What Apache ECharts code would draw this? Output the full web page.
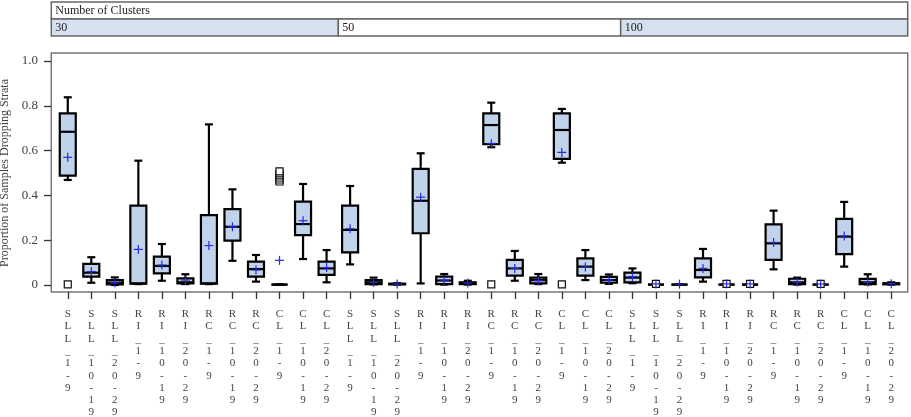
<!DOCTYPE html>
<html>
<head>
<meta charset="utf-8">
<script src="https://cdn.jsdelivr.net/npm/echarts@6/dist/echarts.min.js"></script>
<style>
  html, body { margin: 0; padding: 0; background: #fff; }
  #chart { width: 911px; height: 417px; }
</style>
</head>
<body>
<div id="chart"></div>
<script>
// strata groups, repeated for every cluster count
var strata = ['SLL_1-9', 'SLL_10-19', 'SLL_20-29', 'RI_1-9', 'RI_10-19', 'RI_20-29',
              'RC_1-9', 'RC_10-19', 'RC_20-29', 'CL_1-9', 'CL_10-19', 'CL_20-29'];
var clusters = ['30', '50', '100'];

// [min, q1, median, q3, max] per stratum
var box30 = [
    [0.469, 0.488, 0.684, 0.766, 0.838],
    [0.010, 0.037, 0.055, 0.094, 0.124],
    [0.000, 0.003, 0.010, 0.022, 0.034],
    [0.004, 0.006, 0.007, 0.354, 0.555],
    [0.019, 0.052, 0.085, 0.127, 0.183],
    [0.004, 0.007, 0.012, 0.030, 0.048],
    [0.004, 0.006, 0.007, 0.312, 0.717],
    [0.108, 0.198, 0.260, 0.339, 0.427],
    [0.015, 0.037, 0.071, 0.104, 0.134],
    [0.002, 0.002, 0.002, 0.002, 0.002],
    [0.116, 0.223, 0.272, 0.372, 0.451],
    [0.012, 0.045, 0.074, 0.104, 0.156]
];
var box50 = [
    [0.092, 0.146, 0.246, 0.354, 0.442],
    [0.003, 0.004, 0.012, 0.022, 0.033],
    [0.002, 0.003, 0.004, 0.006, 0.008],
    [0.007, 0.231, 0.376, 0.518, 0.588],
    [0.002, 0.004, 0.020, 0.037, 0.049],
    [0.002, 0.004, 0.008, 0.012, 0.019],
    [0.615, 0.629, 0.714, 0.766, 0.814],
    [0.019, 0.042, 0.074, 0.112, 0.152],
    [0.004, 0.007, 0.022, 0.033, 0.049],
    [0.546, 0.563, 0.692, 0.766, 0.786],
    [0.022, 0.042, 0.082, 0.119, 0.156],
    [0.005, 0.010, 0.022, 0.036, 0.047]
];
var box100 = [
    [0.008, 0.012, 0.033, 0.055, 0.074],
    [0.002, 0.002, 0.002, 0.002, 0.002],
    [0.002, 0.002, 0.002, 0.002, 0.004],
    [0.015, 0.034, 0.067, 0.119, 0.161],
    [0.002, 0.002, 0.002, 0.002, 0.002],
    [0.002, 0.002, 0.002, 0.002, 0.002],
    [0.070, 0.112, 0.186, 0.271, 0.332],
    [0.002, 0.004, 0.012, 0.028, 0.033],
    [0.002, 0.002, 0.002, 0.002, 0.002],
    [0.082, 0.138, 0.216, 0.295, 0.371],
    [0.003, 0.004, 0.012, 0.027, 0.048],
    [0.002, 0.003, 0.005, 0.008, 0.012]
];

var mean30 = [0.570, 0.060, 0.010, 0.159, 0.089, 0.022, 0.176, 0.260, 0.067, 0.110, 0.287, 0.078];
var mean50 = [0.251, 0.012, 0.005, 0.392, 0.022, 0.009, 0.632, 0.074, 0.019, 0.592, 0.080, 0.022];
var mean100 = [0.037, 0.005, 0.004, 0.074, 0.005, 0.005, 0.190, 0.013, 0.004, 0.219, 0.013, 0.006];

// outliers: [stratum index, value]
var out30 = [[0, 0.003], [9, 0.462], [9, 0.471], [9, 0.480], [9, 0.489], [9, 0.498], [9, 0.507]];
var out50 = [[6, 0.003], [9, 0.003]];
var out100 = [[1, 0.005], [4, 0.005], [5, 0.005], [8, 0.005]];

var labels = [], boxData = [], meanData = [], outData = [];
var boxSets = [box30, box50, box100];
var meanSets = [mean30, mean50, mean100];
var outSets = [out30, out50, out100];
for (var g = 0; g < clusters.length; g++) {
    for (var k = 0; k < strata.length; k++) {
        var idx = g * strata.length + k;
        labels.push(strata[k] + '#' + g);   // unique category keys
        boxData.push([idx].concat(boxSets[g][k]));
        meanData.push([idx, meanSets[g][k]]);
    }
    outSets[g].forEach(function (o) {
        outData.push([g * strata.length + o[0], o[1]]);
    });
}

function renderBox(params, api) {
    var i = api.value(0);
    var x = api.coord([i, 0])[0];
    var band = api.size([1, 0])[0];
    var half = band * 0.34;
    var cap = band * 0.17;
    var y = function (n) { return api.coord([i, api.value(n)])[1]; };
    var yMin = y(1), yQ1 = y(2), yMed = y(3), yQ3 = y(4), yMax = y(5);
    var ls = { stroke: '#000', lineWidth: 2.2 };
    return {
        type: 'group',
        children: [
            { type: 'line', shape: { x1: x, y1: yMin, x2: x, y2: yQ1 }, style: ls },
            { type: 'line', shape: { x1: x, y1: yQ3, x2: x, y2: yMax }, style: ls },
            { type: 'line', shape: { x1: x - cap, y1: yMin, x2: x + cap, y2: yMin }, style: ls },
            { type: 'line', shape: { x1: x - cap, y1: yMax, x2: x + cap, y2: yMax }, style: ls },
            { type: 'rect', shape: { x: x - half, y: yQ3, width: half * 2, height: yQ1 - yQ3 },
              style: { fill: '#c1d3eb', stroke: '#000', lineWidth: 2.2 } },
            { type: 'line', shape: { x1: x - half, y1: yMed, x2: x + half, y2: yMed }, style: ls }
        ]
    };
}

function renderMean(params, api) {
    var p = api.coord([api.value(0), api.value(1)]);
    var st = { stroke: '#2a2ad8', lineWidth: 1.2 };
    return {
        type: 'group',
        children: [
            { type: 'line', shape: { x1: p[0] - 4.5, y1: p[1], x2: p[0] + 4.5, y2: p[1] }, style: st },
            { type: 'line', shape: { x1: p[0], y1: p[1] - 4.5, x2: p[0], y2: p[1] + 4.5 }, style: st }
        ]
    };
}

var serif = 'Liberation Serif';
var myChart = echarts.init(document.getElementById('chart'));
var option = {
    animation: false,
    grid: {
        left: 56, right: 8, top: 61, bottom: 132,
        outerBoundsMode: 'none',
        containLabel: false
    },
    xAxis: {
        type: 'category',
        data: labels,
        offset: 7,
        axisLine: { show: false, onZero: false },
        splitLine: { show: false },
        axisTick: { show: true, alignWithLabel: true, interval: 0, length: 7,
                    lineStyle: { color: '#333', width: 1.3 } },
        axisLabel: {
            interval: 0,
            margin: 16,
            fontFamily: serif,
            fontSize: 11,
            lineHeight: 12.3,
            verticalAlign: 'top',
            color: '#444',
            formatter: function (v) {
                return v.split('#')[0].split('').join('\n');
            }
        }
    },
    yAxis: {
        type: 'value',
        min: 0,
        max: 1,
        interval: 0.2,
        offset: 5,
        name: 'Proportion of Samples Dropping Strata',
        nameLocation: 'middle',
        nameGap: 36,
        nameTextStyle: { fontFamily: serif, fontSize: 12, color: '#444' },
        axisLine: { show: false },
        splitLine: { show: false },
        axisTick: { show: true, length: 7, lineStyle: { color: '#333', width: 1.3 } },
        axisLabel: {
            margin: 13,
            fontFamily: serif,
            fontSize: 13,
            color: '#444',
            formatter: function (v) { return v === 0 ? '0' : v.toFixed(1); }
        }
    },
    series: [
        { type: 'custom', renderItem: renderBox, data: boxData, z: 2, clip: false,
          encode: { x: 0, y: [1, 2, 3, 4, 5] } },
        { type: 'scatter', data: outData, symbol: 'rect', symbolSize: 7, z: 3, clip: false,
          itemStyle: { color: '#fff', borderColor: '#111', borderWidth: 1.2, opacity: 1 } },
        { type: 'custom', renderItem: renderMean, data: meanData, z: 4, clip: false,
          encode: { x: 0, y: 1 } }
    ]
};
myChart.setOption(option);

// plot frame and panel header strip, placed from the axis scale
var c0 = myChart.convertToPixel({ xAxisIndex: 0 }, 0);
var band = myChart.convertToPixel({ xAxisIndex: 0 }, 1) - c0;
var bounds = [-0.7, 11.5, 23.5, 35.7].map(function (v) { return c0 + v * band; });
var yTop = myChart.convertToPixel({ yAxisIndex: 0 }, 1.036);
var yBot = myChart.convertToPixel({ yAxisIndex: 0 }, -0.031);
var head = [];
head.push({ type: 'rect', z: -1, shape: { x: bounds[0], y: yTop, width: bounds[3] - bounds[0], height: yBot - yTop },
    style: { fill: 'none', stroke: '#777', lineWidth: 1.5 } });
head.push({ type: 'rect', shape: { x: bounds[0], y: 2, width: bounds[3] - bounds[0], height: 17 },
    style: { fill: '#fff', stroke: '#666', lineWidth: 1.5 } });
head.push({ type: 'text', x: bounds[0] + 4, y: 10.5,
    style: { text: 'Number of Clusters', font: '12px ' + serif, fill: '#222', verticalAlign: 'middle' } });
clusters.forEach(function (c, i) {
    head.push({ type: 'rect', shape: { x: bounds[i], y: 19, width: bounds[i + 1] - bounds[i], height: 17 },
        style: { fill: i === 1 ? '#fff' : '#d6e1f0', stroke: '#666', lineWidth: 1.5 } });
    head.push({ type: 'text', x: bounds[i] + 4, y: 27.5,
        style: { text: c, font: '12px ' + serif, fill: '#222', verticalAlign: 'middle' } });
});
myChart.setOption({ graphic: head });
</script>
</body>
</html>
